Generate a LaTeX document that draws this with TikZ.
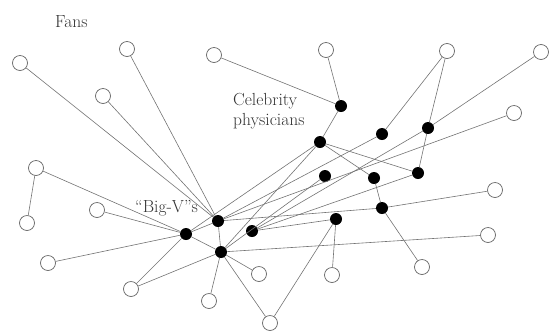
\documentclass[tikz,border=0pt]{standalone}
\begin{document}
\begin{tikzpicture}[x=1pt,y=-1pt,
  fan/.style={circle,draw=black!60,line width=0.7pt,fill=white,minimum size=15pt,inner sep=0pt},
  vip/.style={circle,fill=black,minimum size=12pt,inner sep=0pt},
  link/.style={draw=black!55,line width=0.6pt},
  lbl/.style={anchor=base west,inner sep=0pt,font=\rmfamily\fontsize{17.5}{20}\selectfont,text=black!80}]
\useasboundingbox (0,0) rectangle (549,333);
% fans
\node[fan] (F1) at (20,63) {};
\node[fan] (F2) at (127,49) {};
\node[fan] (F3) at (103,96) {};
\node[fan] (F4) at (214,55) {};
\node[fan] (F5) at (326,50) {};
\node[fan] (F6) at (447,51) {};
\node[fan] (F7) at (541,52) {};
\node[fan] (F8) at (514,113) {};
\node[fan] (F9) at (36,168) {};
\node[fan] (F10) at (27,223) {};
\node[fan] (F11) at (97,210) {};
\node[fan] (F12) at (48,263) {};
\node[fan] (F13) at (131,289) {};
\node[fan] (F14) at (259,274) {};
\node[fan] (F15) at (209,301) {};
\node[fan] (F16) at (270,323) {};
\node[fan] (F17) at (332,275) {};
\node[fan] (F18) at (495,190) {};
\node[fan] (F19) at (488,235) {};
\node[fan] (F20) at (422,267) {};
% celebrity physicians and big-Vs
\node[vip] (C1) at (341,106) {};
\node[vip] (C2) at (320,142) {};
\node[vip] (C3) at (382,134) {};
\node[vip] (C4) at (428,128) {};
\node[vip] (C5) at (325,176) {};
\node[vip] (C6) at (374,178) {};
\node[vip] (C7) at (418,173) {};
\node[vip] (C8) at (382,208) {};
\node[vip] (C9) at (336,219) {};
\node[vip] (B1) at (218,221) {};
\node[vip] (B2) at (186,234) {};
\node[vip] (B3) at (252,231) {};
\node[vip] (B4) at (221,252) {};
% labels
\node[lbl] (t1) at (55,27) {Fans};
\node[lbl,align=left,anchor=north west] (t2) at (233,93) {Celebrity\\physicians};
\node[lbl] (t3) at (135,212) {``Big-V''s};
% links
\foreach \a/\b in {F1/B1,F2/B1,F3/B1,F9/B2,F9/F10,F11/B2,F12/B2,F13/B2,F13/B4,
  F14/B4,F15/B4,F16/B4,F16/C9,F17/C9,F20/C8,F18/C8,F19/B4,F8/B1,F7/C4,F6/C4,F6/C3,
  F4/C1,F5/C1,C1/C2,C2/C7,C2/C6,C4/C7,C6/C8,B1/B2,B2/B4,B1/B4,B1/C8,B3/C9,B2/C2,
  B4/C2,B1/C3,B3/C4,B4/C5,B3/C7}
  \draw[link] (\a) -- (\b);
\end{tikzpicture}
\end{document}
